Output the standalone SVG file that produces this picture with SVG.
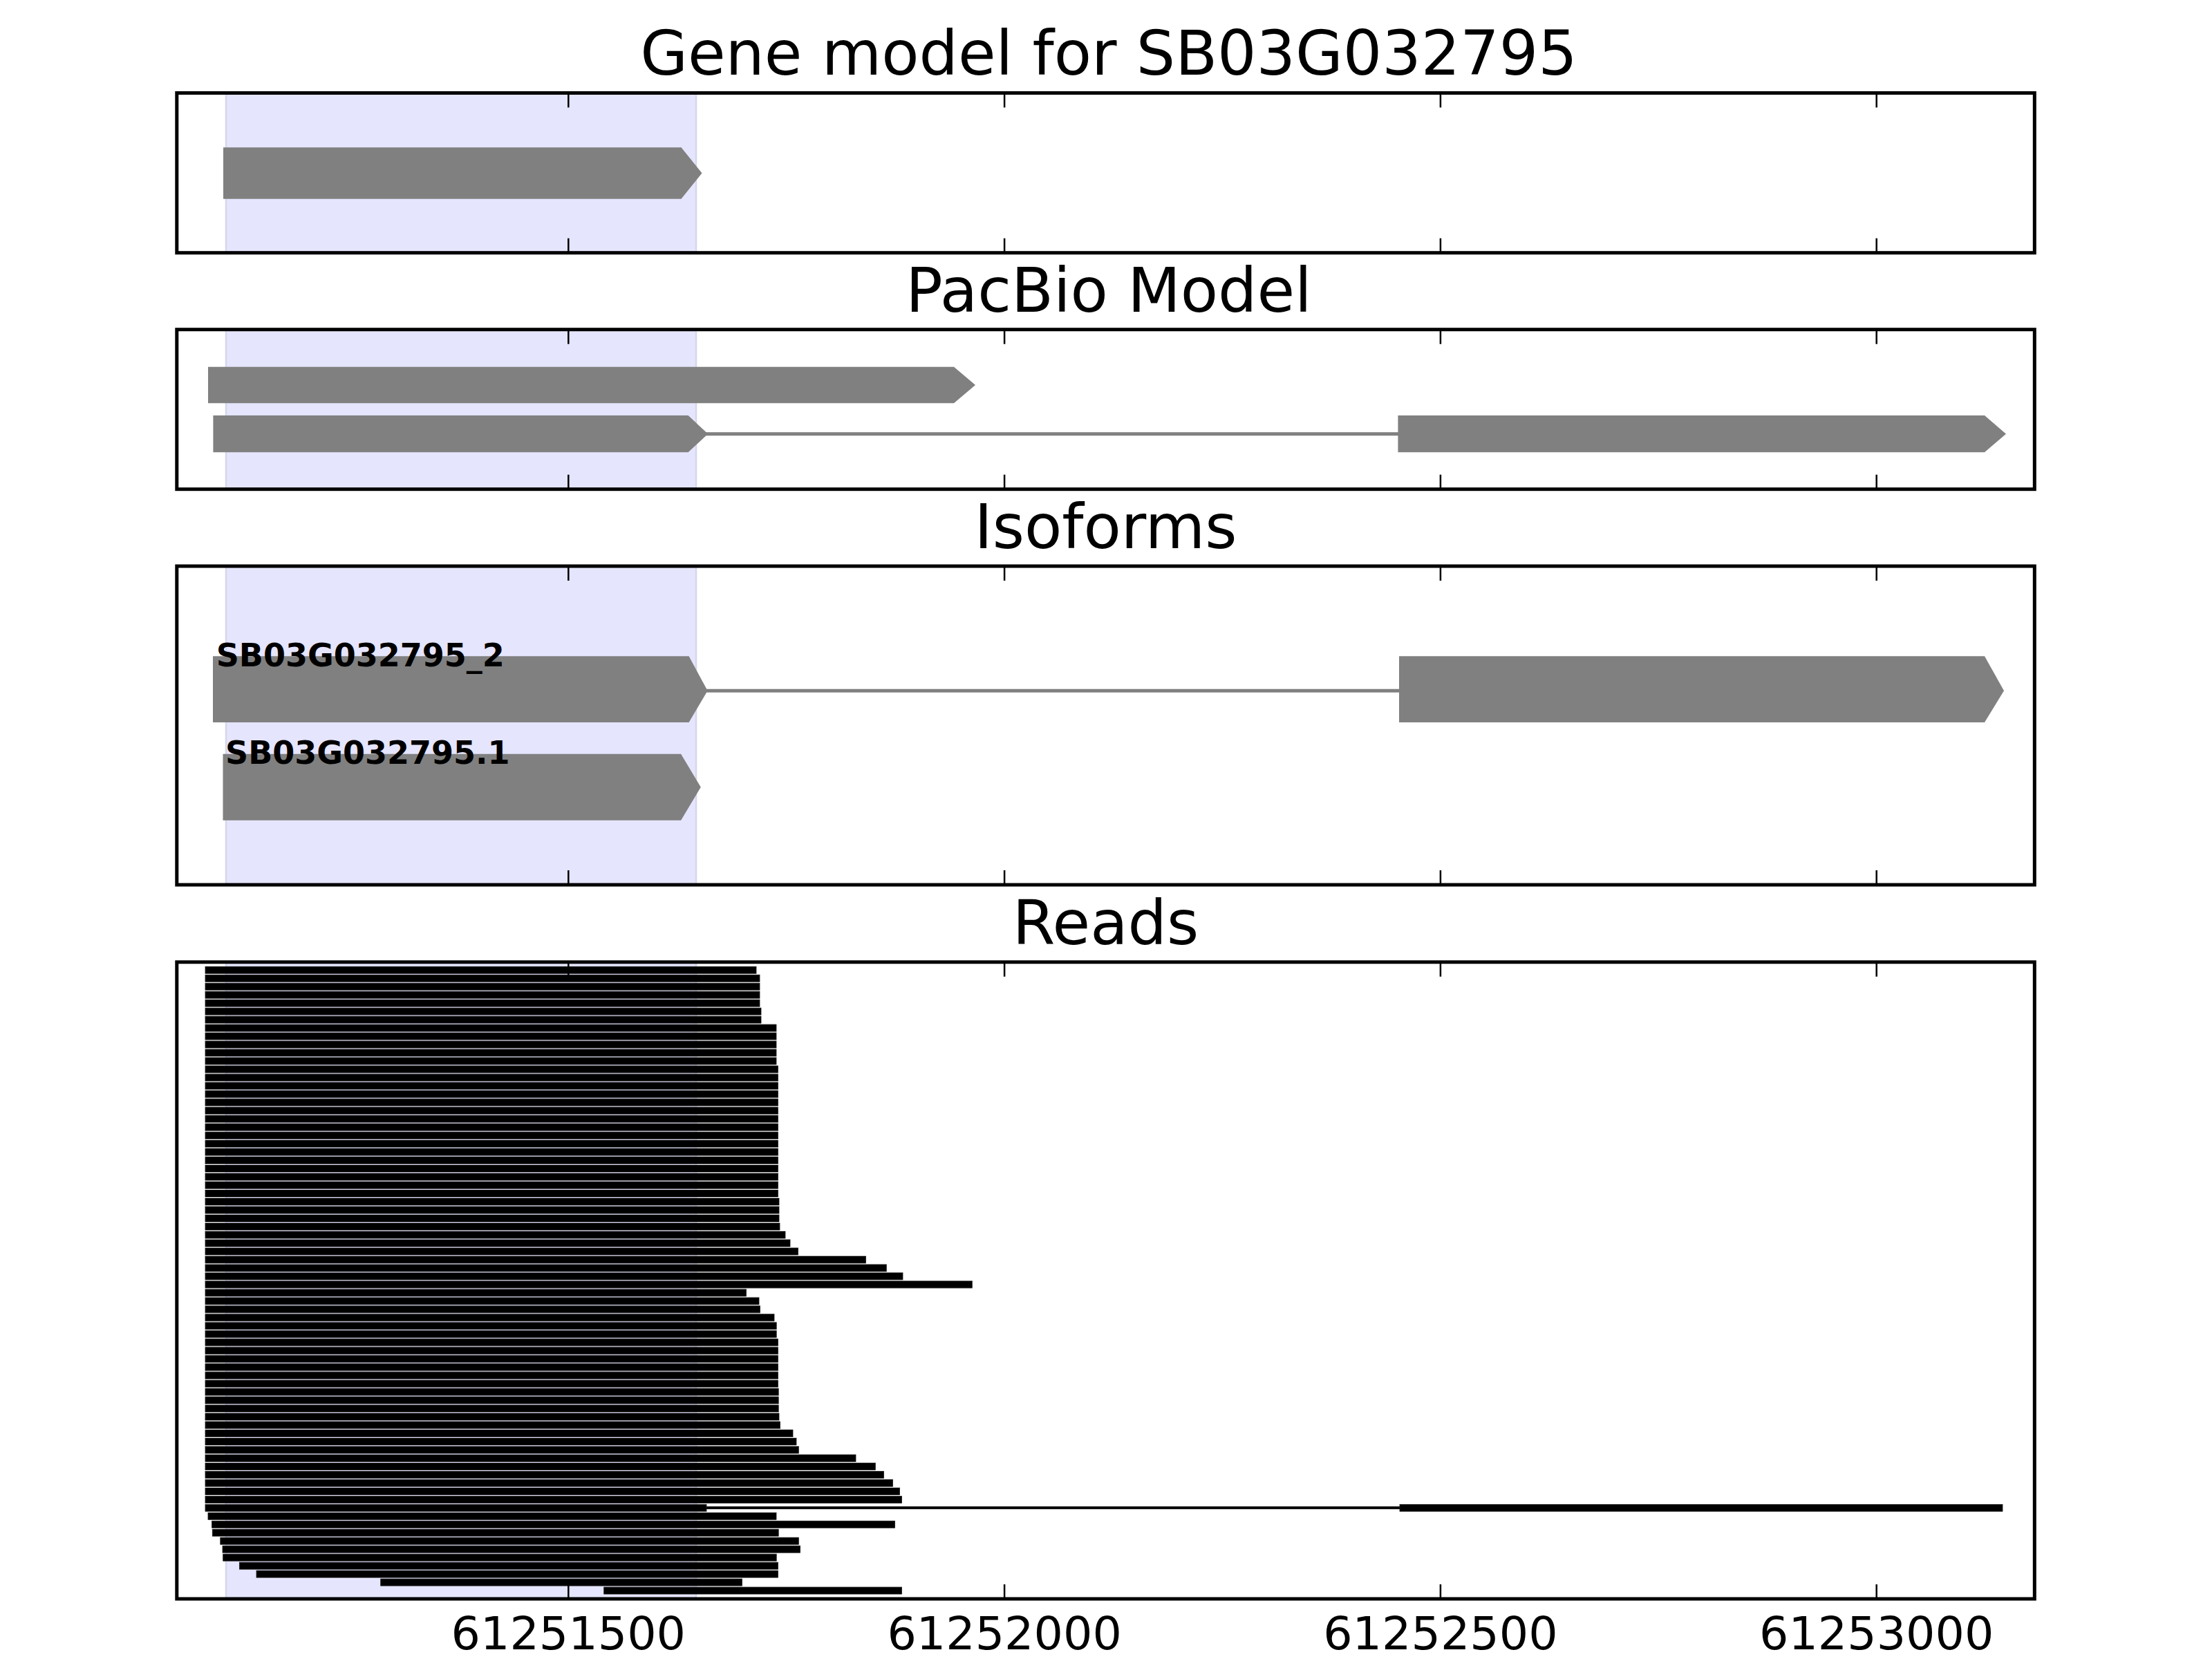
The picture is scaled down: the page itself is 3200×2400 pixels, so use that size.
<svg xmlns="http://www.w3.org/2000/svg" width="3200" height="2400" viewBox="0 0 3200 2400">
<style>
.bg{fill:#ffffff}
.frame{fill:none;stroke:#000;stroke-width:5}
.span{fill:#E5E5FD;stroke:#D6D6EC;stroke-width:2.5}
.feat{fill:#808080;stroke:none}
.intron{stroke:#808080;stroke-width:5;fill:none}
.tick{stroke:#000;stroke-width:2.5}
.title{font-family:"DejaVu Sans",sans-serif;font-size:88.8px;text-anchor:middle;fill:#000}
.tl{font-family:"DejaVu Sans",sans-serif;font-size:66.7px;text-anchor:middle;fill:#000}
.lab{font-family:"DejaVu Sans",sans-serif;font-size:46px;font-weight:bold;fill:#000}
.r{fill:#000;stroke:#1a1a1a;stroke-width:0.8}
.rl{stroke:#000;stroke-width:4}
</style>
<defs>
<g id="ticks">
<line class="tick" x1="822.3" y1="0" x2="822.3" y2="21"/>
<line class="tick" x1="1453.1" y1="0" x2="1453.1" y2="21"/>
<line class="tick" x1="2083.9" y1="0" x2="2083.9" y2="21"/>
<line class="tick" x1="2714.7" y1="0" x2="2714.7" y2="21"/>
</g>
</defs>
<rect class="bg" x="0" y="0" width="3200" height="2400"/>

<g id="panel-gene-model">
<text class="title" x="1604" y="108.3">Gene model for SB03G032795</text>
<rect class="span" x="327" y="134.5" width="680" height="231.2"/>
<g id="gene-SB03G032795">
<polygon class="feat" points="323,213.3 985.5,213.3 1015.5,250.5 985.5,287.7 323,287.7"/>
</g>
<use href="#ticks" transform="translate(0,134.5)"/>
<use href="#ticks" transform="translate(0,365.7) scale(1,-1)"/>
<rect class="frame" x="255.8" y="134.5" width="2687.5" height="231.2"/>
</g>

<g id="panel-pacbio">
<text class="title" x="1604" y="450.5">PacBio Model</text>
<rect class="span" x="327" y="476.7" width="680" height="231"/>
<g id="pacbio-1">
<polygon class="feat" points="301,530.7 1380,530.7 1411,557 1380,583.3 301,583.3"/>
</g>
<g id="pacbio-2">
<line class="intron" x1="1020" y1="627.7" x2="2025" y2="627.7"/>
<polygon class="feat" points="308.4,601 995.6,601 1024.2,627.7 995.6,654.3 308.4,654.3"/>
<polygon class="feat" points="2022.4,601 2871,601 2902,627.7 2871,654.3 2022.4,654.3"/>
</g>
<use href="#ticks" transform="translate(0,476.7)"/>
<use href="#ticks" transform="translate(0,707.7) scale(1,-1)"/>
<rect class="frame" x="255.8" y="476.7" width="2687.5" height="231"/>
</g>

<g id="panel-isoforms">
<text class="title" x="1599.5" y="792.8">Isoforms</text>
<rect class="span" x="327" y="819" width="680" height="461"/>
<g id="isoform-2">
<line class="intron" x1="1020" y1="999.3" x2="2026" y2="999.3"/>
<polygon class="feat" points="308,949.3 996.6,949.3 1023.6,999.3 996.6,1045 308,1045"/>
<polygon class="feat" points="2024,949.3 2871,949.3 2899,999.3 2871,1045 2024,1045"/>
<text class="lab" x="312.7" y="964.3">SB03G032795_2</text>
</g>
<g id="isoform-1">
<polygon class="feat" points="322.5,1090.7 985.1,1090.7 1013.8,1138.7 985.1,1186.7 322.5,1186.7"/>
<text class="lab" x="326.1" y="1105">SB03G032795.1</text>
</g>
<use href="#ticks" transform="translate(0,819)"/>
<use href="#ticks" transform="translate(0,1280) scale(1,-1)"/>
<rect class="frame" x="255.8" y="819" width="2687.5" height="461"/>
</g>

<g id="panel-reads">
<text class="title" x="1599.5" y="1365.6">Reads</text>
<rect class="span" x="327" y="1391.8" width="680" height="921.2"/>
<g id="reads">
<rect class="r" x="297" y="1398.3" width="797" height="10"/>
<rect class="r" x="297" y="1410.27" width="802" height="10"/>
<rect class="r" x="297" y="1422.24" width="802" height="10"/>
<rect class="r" x="297" y="1434.21" width="802" height="10"/>
<rect class="r" x="297" y="1446.18" width="802" height="10"/>
<rect class="r" x="297" y="1458.15" width="804" height="10"/>
<rect class="r" x="297" y="1470.12" width="804" height="10"/>
<rect class="r" x="297" y="1482.09" width="826" height="10"/>
<rect class="r" x="297" y="1494.06" width="826" height="10"/>
<rect class="r" x="297" y="1506.03" width="826" height="10"/>
<rect class="r" x="297" y="1518" width="826" height="10"/>
<rect class="r" x="297" y="1529.97" width="826" height="10"/>
<rect class="r" x="297" y="1541.94" width="828.4" height="10"/>
<rect class="r" x="297" y="1553.91" width="828.4" height="10"/>
<rect class="r" x="297" y="1565.88" width="828.4" height="10"/>
<rect class="r" x="297" y="1577.85" width="828.4" height="10"/>
<rect class="r" x="297" y="1589.82" width="828.4" height="10"/>
<rect class="r" x="297" y="1601.79" width="828.4" height="10"/>
<rect class="r" x="297" y="1613.76" width="828.4" height="10"/>
<rect class="r" x="297" y="1625.73" width="828.4" height="10"/>
<rect class="r" x="297" y="1637.7" width="828.4" height="10"/>
<rect class="r" x="297" y="1649.67" width="828.4" height="10"/>
<rect class="r" x="297" y="1661.64" width="828.4" height="10"/>
<rect class="r" x="297" y="1673.61" width="828.4" height="10"/>
<rect class="r" x="297" y="1685.58" width="828.4" height="10"/>
<rect class="r" x="297" y="1697.55" width="828.4" height="10"/>
<rect class="r" x="297" y="1709.52" width="828.4" height="10"/>
<rect class="r" x="297" y="1721.49" width="828.4" height="10"/>
<rect class="r" x="297" y="1733.46" width="830" height="10"/>
<rect class="r" x="297" y="1745.43" width="830" height="10"/>
<rect class="r" x="297" y="1757.4" width="830" height="10"/>
<rect class="r" x="297" y="1769.37" width="831" height="10"/>
<rect class="r" x="297" y="1781.34" width="839" height="10"/>
<rect class="r" x="297" y="1793.31" width="846" height="10"/>
<rect class="r" x="297" y="1805.28" width="857.5" height="10"/>
<rect class="r" x="297" y="1817.25" width="955.5" height="10"/>
<rect class="r" x="297" y="1829.22" width="985.3" height="10"/>
<rect class="r" x="297" y="1841.19" width="1009" height="10"/>
<rect class="r" x="297" y="1853.16" width="1109.3" height="10"/>
<rect class="r" x="297" y="1865.13" width="782.5" height="10"/>
<rect class="r" x="297" y="1877.1" width="801" height="10"/>
<rect class="r" x="297" y="1889.07" width="802.4" height="10"/>
<rect class="r" x="297" y="1901.04" width="823" height="10"/>
<rect class="r" x="297" y="1913.01" width="826.2" height="10"/>
<rect class="r" x="297" y="1924.98" width="826.2" height="10"/>
<rect class="r" x="297" y="1936.95" width="828.4" height="10"/>
<rect class="r" x="297" y="1948.92" width="828.4" height="10"/>
<rect class="r" x="297" y="1960.89" width="828.4" height="10"/>
<rect class="r" x="297" y="1972.86" width="828.4" height="10"/>
<rect class="r" x="297" y="1984.83" width="828.4" height="10"/>
<rect class="r" x="297" y="1996.8" width="828.4" height="10"/>
<rect class="r" x="297" y="2008.77" width="829.2" height="10"/>
<rect class="r" x="297" y="2020.74" width="829.2" height="10"/>
<rect class="r" x="297" y="2032.71" width="829.2" height="10"/>
<rect class="r" x="297" y="2044.68" width="830" height="10"/>
<rect class="r" x="297" y="2056.65" width="831.5" height="10"/>
<rect class="r" x="297" y="2068.62" width="850" height="10"/>
<rect class="r" x="297" y="2080.59" width="855" height="10"/>
<rect class="r" x="297" y="2092.56" width="858.3" height="10"/>
<rect class="r" x="297" y="2104.53" width="941" height="10"/>
<rect class="r" x="297" y="2116.5" width="969.3" height="10"/>
<rect class="r" x="297" y="2128.47" width="981.5" height="10"/>
<rect class="r" x="297" y="2140.44" width="994.5" height="10"/>
<rect class="r" x="297" y="2152.41" width="1004.5" height="10"/>
<rect class="r" x="297" y="2164.38" width="1007.5" height="10"/>
<line class="rl" x1="1022" y1="2181.35" x2="2025" y2="2181.35"/>
<rect class="r" x="297" y="2176.35" width="725" height="10"/>
<rect class="r" x="2025" y="2176.35" width="872" height="10"/>
<rect class="r" x="301" y="2188.32" width="822" height="10"/>
<rect class="r" x="306.6" y="2200.29" width="988" height="10"/>
<rect class="r" x="307.3" y="2212.26" width="818.9" height="10"/>
<rect class="r" x="318.8" y="2224.23" width="836.5" height="10"/>
<rect class="r" x="322" y="2236.2" width="835.6" height="10"/>
<rect class="r" x="322.7" y="2248.17" width="800.5" height="10"/>
<rect class="r" x="346.4" y="2260.14" width="779" height="10"/>
<rect class="r" x="371" y="2272.11" width="754.4" height="10"/>
<rect class="r" x="550.7" y="2284.08" width="522.7" height="10"/>
<rect class="r" x="873.7" y="2296.05" width="430.8" height="10"/>
</g>
<use href="#ticks" transform="translate(0,1391.8)"/>
<use href="#ticks" transform="translate(0,2313) scale(1,-1)"/>
<rect class="frame" x="255.8" y="1391.8" width="2687.5" height="921.2"/>
<text class="tl" x="822.3" y="2386">61251500</text>
<text class="tl" x="1453.1" y="2386">61252000</text>
<text class="tl" x="2083.9" y="2386">61252500</text>
<text class="tl" x="2714.7" y="2386">61253000</text>
</g>
</svg>
